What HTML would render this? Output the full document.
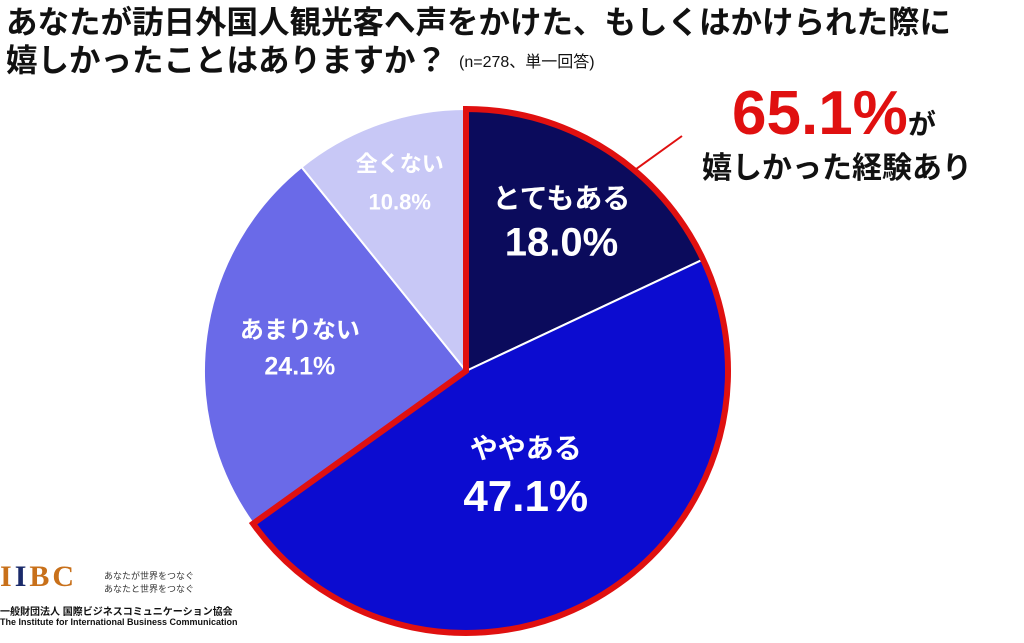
<!DOCTYPE html>
<html><head><meta charset="utf-8"><style>
body{margin:0;width:1024px;height:643px;background:#fff;overflow:hidden;font-family:"Liberation Sans","Noto Sans CJK JP",sans-serif;position:relative}
.t{position:absolute;font-weight:bold;color:#111;white-space:nowrap}
</style></head><body>
<div class="t" style="left:6px;top:2px;font-size:31.5px;line-height:40px">あなたが訪日外国人観光客へ声をかけた、もしくはかけられた際に</div>
<div class="t" style="left:6px;top:40px;font-size:31.5px;line-height:40px">嬉しかったことはありますか？<span style="font-size:16px;font-weight:normal;margin-left:12px;vertical-align:4px">(n=278、単一回答)</span></div>
<div class="t" style="left:732px;top:78px;font-size:62px;color:#e01010">65.1%<span style="font-size:28px;color:#111">が</span></div>
<div class="t" style="left:702px;top:143px;font-size:30px">嬉しかった経験あり</div>
<svg id="pie" width="1024" height="643" style="position:absolute;left:0;top:0"></svg>
<div style="position:absolute;left:0;top:560px;font-family:'Liberation Serif',serif;font-weight:bold;font-size:30px;color:#c8701a;letter-spacing:3px">I<span style="color:#1a2a6a">I</span>BC</div>
<div class="t" style="left:104px;top:570px;font-size:9px;font-weight:normal;line-height:13px;color:#333">あなたが世界をつなぐ<br>あなたと世界をつなぐ</div>
<div class="t" style="left:0;top:603px;font-size:10px">一般財団法人 国際ビジネスコミュニケーション協会</div>
<div class="t" style="left:0;top:617px;font-size:9px">The Institute for International Business Communication</div>
<script>
const categories=["とてもある","ややある","あまりない","全くない"];
const values=[18.0,47.1,24.1,10.8];
const colors=["#0b0b5c","#0c0cd0","#6a6ae8","#c8c8f6"];
const highlighted=[true,true,false,false];
const cx=466,cy=371,r=262,NS="http://www.w3.org/2000/svg";
const svg=document.getElementById('pie');
const total=values.reduce((a,b)=>a+b,0);
function pt(a,rr){return [cx+rr*Math.sin(a),cy-rr*Math.cos(a)];}
let a=0;const segs=[];
values.forEach((v,i)=>{
 const a2=a+v/total*2*Math.PI;const p1=pt(a,r),p2=pt(a2,r);
 const path=document.createElementNS(NS,'path');
 path.setAttribute('d',`M${cx},${cy}L${p1[0]},${p1[1]}A${r},${r} 0 ${a2-a>Math.PI?1:0} 1 ${p2[0]},${p2[1]}Z`);
 path.setAttribute('fill',colors[i]);path.setAttribute('stroke','#fff');path.setAttribute('stroke-width','2');
 
 
 svg.appendChild(path);segs.push([a,a2]);a=a2;});
let hs=0,he=0;highlighted.forEach((h,i)=>{if(h)he=segs[i][1];});
const q1=pt(hs,r),q2=pt(he,r);
const out=document.createElementNS(NS,'path');
out.setAttribute('d',`M${cx},${cy}L${q1[0]},${q1[1]}A${r},${r} 0 ${he-hs>Math.PI?1:0} 1 ${q2[0]},${q2[1]}Z`);
out.setAttribute('fill','none');out.setAttribute('stroke','#e01010');out.setAttribute('stroke-width','6');out.setAttribute('stroke-linejoin','miter');


svg.appendChild(out);
const ln=document.createElementNS(NS,'line');
const lp=pt(0.7,r+2);
ln.setAttribute('x1',lp[0]);ln.setAttribute('y1',lp[1]);ln.setAttribute('x2',682);ln.setAttribute('y2',136);
ln.setAttribute('stroke','#e01010');ln.setAttribute('stroke-width','2');


svg.appendChild(ln);
// [radius factor, name size, value size, half gap]
const lab=[[0.68,28,40,22],[0.45,28,44,24],[0.64,24,25,18],[0.76,22,22,19]];
values.forEach((v,i)=>{
 const m=(segs[i][0]+segs[i][1])/2;const p=pt(m,r*lab[i][0]);
 const t1=document.createElementNS(NS,'text');
 t1.setAttribute('x',p[0]);t1.setAttribute('y',p[1]-lab[i][3]);t1.setAttribute('text-anchor','middle');t1.setAttribute('dominant-baseline','central');
 t1.setAttribute('font-size',lab[i][1]);t1.setAttribute('font-weight','bold');t1.setAttribute('fill','#fff');
 t1.setAttribute('font-family','"Liberation Sans","Noto Sans CJK JP",sans-serif');
 t1.textContent=categories[i];
 
 
 svg.appendChild(t1);
 const t2=document.createElementNS(NS,'text');
 t2.setAttribute('x',p[0]);t2.setAttribute('y',p[1]+lab[i][3]);t2.setAttribute('text-anchor','middle');t2.setAttribute('dominant-baseline','central');
 t2.setAttribute('font-size',lab[i][2]);t2.setAttribute('font-weight','bold');t2.setAttribute('fill','#fff');
 t2.setAttribute('font-family','"Liberation Sans",sans-serif');
 t2.textContent=v.toFixed(1)+'%';
 
 
 svg.appendChild(t2);
});
</script>
</body></html>
